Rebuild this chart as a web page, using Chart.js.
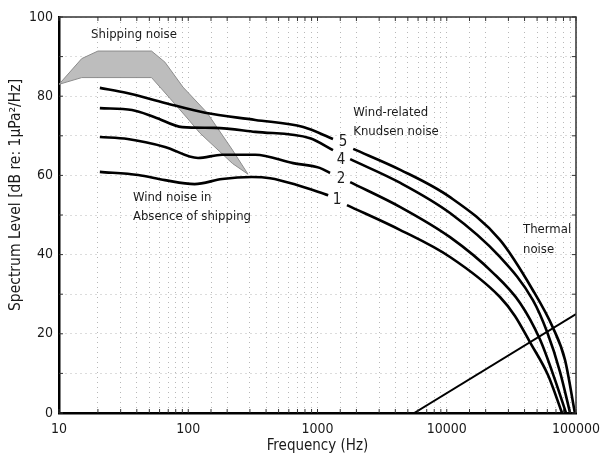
<!DOCTYPE html>
<html>
<head>
<meta charset="utf-8">
<script src="https://cdn.jsdelivr.net/npm/chart.js@4.4.0/dist/chart.umd.min.js"></script>
<style>
  html, body { margin: 0; padding: 0; background: #fff; }
  #wrap { width: 603px; height: 459px; }
</style>
</head>
<body>
<div id="wrap"><canvas id="noiseChart" width="603" height="459"></canvas></div>
<script>
// [frequency Hz, spectrum level dB]
const shippingUpper = [[10, 83], [15, 89.5], [20, 91.4], [52, 91.4], [66, 88.6], [91, 82.3], [140, 75.8], [220, 66.4], [290, 60.3]];
const shippingLower = [[290, 60.3], [220, 63], [123, 70.7], [98, 74.5], [72, 79.5], [52, 84.7], [15, 84.7], [10, 83]];

const wind5Low = [[20.7, 82.1], [33.6, 80.8], [66, 78.3], [135, 75.8], [330, 74], [776, 72.2], [1318, 69.2]];
const wind5High = [[1890, 66.7], [4375, 61.4], [10600, 54.5], [25800, 43.7], [46400, 31], [66400, 21.5], [82200, 13.4], [98000, 0]];
const wind4Low = [[20.7, 77], [36.7, 76.5], [55, 74.7], [90, 72.2], [161, 72], [330, 71], [875, 69.4], [1318, 66.4]];
const wind4High = [[1790, 64.1], [4375, 58.1], [10600, 50.5], [25800, 39.4], [46400, 28.5], [59700, 20.5], [75200, 10.4], [90000, 0]];
const wind2Low = [[20.7, 69.7], [34, 69.2], [66, 67.2], [119, 64.4], [183, 65.2], [330, 65.2], [648, 63.1], [1040, 61.9], [1250, 60.6]];
const wind2High = [[1790, 58.3], [4375, 52], [10600, 44.4], [22800, 35.4], [36900, 27.8], [52600, 18.6], [68900, 8.3], [83700, 0]];
const wind1Low = [[20.7, 60.9], [41, 60.1], [66, 58.8], [112, 57.8], [183, 59.1], [311, 59.6], [430, 59.3], [694, 57.6], [1210, 55]];
const wind1High = [[1690, 52.5], [4375, 46.2], [10600, 39.4], [25800, 29.3], [33700, 24.5], [44000, 17.9], [60700, 9.6], [78000, 0]];

const thermal = [[5600, 0], [100000, 25]];

const xTickLabels = [10, 100, 1000, 10000, 100000];
const yTickLabels = [0, 20, 40, 60, 80, 100];

// text notes anchored in data units: [text, freq, dB, align]
const notes = [
  ["Shipping noise", 17.7, 95.5, "left"],
  ["Wind noise in", 37.3, 54.3, "left"],
  ["Absence of shipping", 37.3, 49.7, "left"],
  ["Wind-related", 1890, 75.8, "left"],
  ["Knudsen noise", 1890, 71, "left"],
  ["Thermal", 38900, 46.2, "left"],
  ["noise", 38900, 41.2, "left"],
  ["5", 1574, 68.4, "center"],
  ["4", 1520, 63.9, "center"],
  ["2", 1520, 59.1, "center"],
  ["1", 1417, 53.8, "center"]
];

const FONT = '"DejaVu Sans Condensed", "Liberation Sans Narrow", "Arial Narrow", sans-serif';
Chart.defaults.font.family = FONT;
Chart.defaults.color = '#1a1a1a';

const pts = arr => arr.map(p => ({ x: p[0], y: p[1] }));

const curve = data => ({
  data: pts(data),
  borderColor: '#000',
  borderWidth: 2.6,
  pointRadius: 0,
  fill: false,
  cubicInterpolationMode: 'monotone',
  order: 1
});

const frameAndNotes = {
  id: 'frameAndNotes',
  afterDraw(chart) {
    const { ctx, chartArea: a, scales: { x, y } } = chart;
    ctx.save();
    // top + right edge of the box
    ctx.strokeStyle = '#333';
    ctx.lineWidth = 1.5;
    ctx.beginPath();
    ctx.moveTo(a.left, a.top);
    ctx.lineTo(a.right, a.top);
    ctx.lineTo(a.right, a.bottom);
    ctx.stroke();

    // little inward ticks
    ctx.lineWidth = 1;
    x.ticks.forEach(t => {
      const px = x.getPixelForValue(t.value);
      ctx.beginPath();
      ctx.moveTo(px, a.bottom); ctx.lineTo(px, a.bottom - 4);
      ctx.moveTo(px, a.top); ctx.lineTo(px, a.top + 4);
      ctx.stroke();
    });
    y.ticks.forEach(t => {
      const py = y.getPixelForValue(t.value);
      ctx.beginPath();
      ctx.moveTo(a.left, py); ctx.lineTo(a.left + 4, py);
      ctx.moveTo(a.right, py); ctx.lineTo(a.right - 4, py);
      ctx.stroke();
    });

    // notes
    ctx.fillStyle = '#1a1a1a';
    ctx.textBaseline = 'middle';
    notes.forEach(([txt, f, db, align]) => {
      ctx.font = (align === 'center' ? '15px ' : '13px ') + FONT;
      ctx.textAlign = align;
      ctx.fillText(txt, x.getPixelForValue(f), y.getPixelForValue(db));
    });

    // y axis title
    ctx.translate(16, (a.top + a.bottom) / 2 - 20);
    ctx.rotate(-Math.PI / 2);
    ctx.textAlign = 'center';
    ctx.font = '15.5px ' + FONT;
    ctx.fillText('Spectrum Level [dB re: 1\u03bcPa\u00b2/Hz]', 0, 0);
    ctx.restore();
  }
};

const ctx = document.getElementById('noiseChart').getContext('2d');
new Chart(ctx, {
  type: 'line',
  data: {
    datasets: [
      {
        data: pts(shippingUpper.concat(shippingLower)),
        borderColor: '#8c8c8c',
        borderWidth: 1,
        backgroundColor: '#bdbdbd',
        pointRadius: 0,
        tension: 0,
        fill: 'shape',
        order: 5
      },
      curve(wind5Low), curve(wind5High),
      curve(wind4Low), curve(wind4High),
      curve(wind2Low), curve(wind2High),
      curve(wind1Low), curve(wind1High),
      { data: pts(thermal), borderColor: '#000', borderWidth: 2, pointRadius: 0, fill: false, order: 1 }
    ]
  },
  options: {
    responsive: false,
    animation: false,
    devicePixelRatio: 1,
    layout: { padding: { top: 17, right: 27, left: 0, bottom: 0 } },
    scales: {
      x: {
        type: 'logarithmic',
        min: 10,
        max: 100000,
        afterFit: s => { s.height = 46; s.paddingLeft = 0; s.paddingRight = 0; },
        grid: { color: 'rgba(0,0,0,0.28)', drawTicks: false },
        border: { color: '#000', width: 2.5, dash: [1, 4] },
        ticks: {
          autoSkip: false,
          maxRotation: 0,
          padding: 8,
          font: { size: 14 },
          callback: v => xTickLabels.includes(v) ? String(v) : ''
        },
        title: { display: true, text: 'Frequency (Hz)', font: { size: 15 }, padding: { top: 4 } }
      },
      y: {
        min: 0,
        max: 100,
        afterFit: s => { s.width = 59; s.paddingTop = 0; s.paddingBottom = 0; },
        grid: { color: 'rgba(0,0,0,0.28)', drawTicks: false },
        border: { color: '#000', width: 2.5, dash: [1, 4] },
        ticks: {
          stepSize: 10,
          padding: 6,
          font: { size: 14 },
          callback: v => yTickLabels.includes(v) ? String(v) : ''
        }
      }
    },
    plugins: {
      legend: { display: false },
      tooltip: { enabled: false }
    }
  },
  plugins: [frameAndNotes]
});
</script>
</body>
</html>
